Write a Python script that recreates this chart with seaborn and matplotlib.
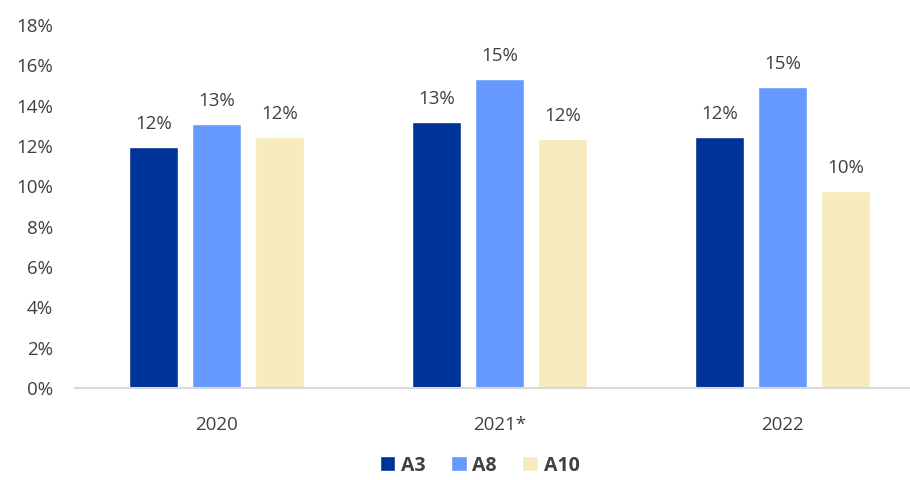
import matplotlib
matplotlib.use("Agg")
import matplotlib.pyplot as plt
import seaborn as sns
import pandas as pd

years = ["2020", "2021*", "2022"]
series = ["A3", "A8", "A10"]
a3 = [11.95, 13.18, 12.45]
a8 = [13.1, 15.32, 14.94]
a10 = [12.45, 12.35, 9.75]
yticks = [0, 2, 4, 6, 8, 10, 12, 14, 16, 18]
colors = ["#003399", "#6699FF", "#F7EBBD"]

rows = []
for name, vals in zip(series, [a3, a8, a10]):
    for y, v in zip(years, vals):
        rows.append({"year": y, "series": name, "value": v})
df = pd.DataFrame(rows)

sns.set_theme(style="white")
plt.rcParams["font.family"] = ["Open Sans", "DejaVu Sans"]
text_color = "#404040"
fs = 13.5

fig = plt.figure(figsize=(9.1, 4.8), dpi=100)
ax = fig.add_axes([75 / 910, 92 / 480, 1 - 75 / 910, (388 - 25) / 480])

sns.barplot(data=df, x="year", y="value", hue="series", order=years,
            hue_order=series, palette=colors, width=0.667, gap=0.23,
            saturation=1, ax=ax, legend=True)

for cont in ax.containers:
    ax.bar_label(cont, labels=[f"{v:.0f}%" for v in cont.datavalues],
                 padding=10, fontsize=fs, color=text_color)

ax.set_ylim(0, 18)
ax.set_xlim(-0.5, 2.45)
ax.set_yticks(yticks)
ax.set_yticklabels([f"{t}%" for t in yticks], fontsize=fs, color=text_color)
ax.tick_params(axis="x", labelsize=fs, labelcolor=text_color, pad=20, length=0)
ax.tick_params(axis="y", length=0, pad=16)
ax.set_xlabel("")
ax.set_ylabel("")
for s in ["top", "right", "left"]:
    ax.spines[s].set_visible(False)
ax.spines["bottom"].set_color("#D9D9D9")
ax.spines["bottom"].set_linewidth(1.5)
ax.grid(False)

handles, labels = ax.get_legend_handles_labels()
ax.legend_.remove()
leg = fig.legend(handles, labels, loc="center", bbox_to_anchor=(0.527, 0.03),
                 ncol=3, frameon=False, handlelength=0.8, handleheight=0.8,
                 handletextpad=0.3, columnspacing=1.3,
                 prop={"weight": "bold", "size": 14})
for t in leg.get_texts():
    t.set_color(text_color)

fig.savefig("out.png", dpi=100)
